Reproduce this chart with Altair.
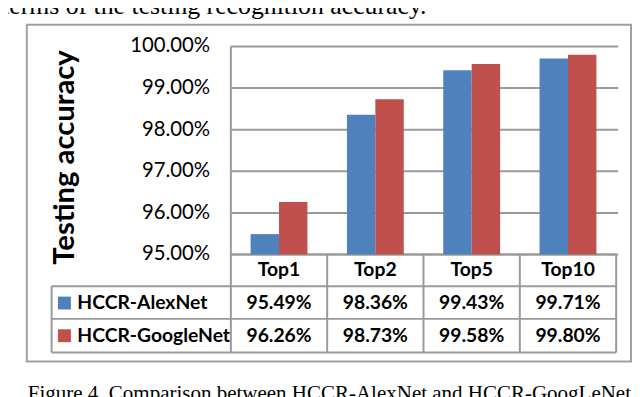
import altair as alt
import pandas as pd

# ---------------- data ----------------
categories = ["Top1", "Top2", "Top5", "Top10"]
series_names = ["HCCR-AlexNet", "HCCR-GoogleNet"]
alexnet = [95.49, 98.36, 99.43, 99.71]
googlenet = [96.26, 98.73, 99.58, 99.80]
y_ticks = [95, 96, 97, 98, 99, 100]
y_title = "Testing accuracy"
top_text = "terms of the testing recognition accuracy."
caption = "Figure 4. Comparison between HCCR-AlexNet and HCCR-GoogLeNet"

# ---------------- layout / style ----------------
colors = ["#4F81BD", "#C0504D"]
W, H = 630, 389
PL, PR, PT, PB = 225, 614, 37, 247       # plot area in chart px
TL = 44                                  # table left edge
ROW_LINES = [279, 312, 346]              # table horizontal lines
GRID = "#9a9a9a"
FONT = "Lato"

bar_df = pd.DataFrame({
    "category": categories * 2,
    "series": [s for s in series_names for _ in categories],
    "value": alexnet + googlenet,
})
tick_df = pd.DataFrame({"tick": y_ticks,
                        "label": [f"{t:.2f}%" for t in y_ticks]})
rows = ["header"] + series_names
table_df = pd.DataFrame({
    "category": categories * 3,
    "row": [r for r in rows for _ in categories],
    "text": categories + [f"{v:.2f}%" for v in alexnet] + [f"{v:.2f}%" for v in googlenet],
})
legend_df = pd.DataFrame({"row": series_names, "series": series_names})

step = (PR - PL) / len(categories)
segs = [(PL, PB, PR, PB)] + [(TL, y, PR, y) for y in ROW_LINES]
segs += [(PL, PT, PL, ROW_LINES[-1]), (TL, ROW_LINES[0], TL, ROW_LINES[-1])]
segs += [(PL + step * k, PB, PL + step * k, ROW_LINES[-1]) for k in range(1, len(categories) + 1)]
seg_df = pd.DataFrame(segs, columns=["x1", "y1", "x2", "y2"])

xscale = alt.Scale(domain=categories, range=[PL, PR], paddingInner=0.41, paddingOuter=0.205)
yscale = alt.Scale(domain=[95, 100], range=[PB, PT], zero=False, nice=False)
rowscale = alt.Scale(type="point", domain=rows, range=[263, 329], padding=0)

border = alt.Chart(pd.DataFrame({"a": [0]})).mark_rect(
    fill="white", stroke="#a0a0a0", strokeWidth=2
).encode(x=alt.value(19), x2=alt.value(629), y=alt.value(15), y2=alt.value(355))

grid = alt.Chart(tick_df).mark_rule(color=GRID, strokeWidth=2).encode(
    y=alt.Y("tick:Q", scale=yscale, axis=None),
    x=alt.value(PL), x2=alt.value(PR + 2),
)

lines = alt.Chart(seg_df).mark_rule(color=GRID, strokeWidth=2).encode(
    x=alt.X("x1:Q", scale=None), x2="x2:Q",
    y=alt.Y("y1:Q", scale=None), y2="y2:Q",
)

bars = alt.Chart(bar_df).mark_bar().encode(
    x=alt.X("category:N", scale=xscale, axis=None),
    xOffset=alt.XOffset("series:N", scale=alt.Scale(domain=series_names, paddingInner=0, paddingOuter=0)),
    y=alt.Y("value:Q", scale=yscale, axis=None),
    y2=alt.datum(95),
    color=alt.Color("series:N", scale=alt.Scale(domain=series_names, range=colors), legend=None),
)

tick_labels = alt.Chart(tick_df).mark_text(
    align="right", baseline="middle", font=FONT, fontSize=20.5, color="black"
).encode(
    y=alt.Y("tick:Q", scale=yscale, axis=None), x=alt.value(204), text="label:N",
)

title = alt.Chart(pd.DataFrame({"t": [y_title]})).mark_text(
    angle=270, align="center", baseline="alphabetic", font=FONT, fontSize=29.5,
    fontWeight="bold", color="black"
).encode(x=alt.value(67), y=alt.value(149), text="t:N")

table_text = alt.Chart(table_df).mark_text(
    align="center", baseline="middle", font=FONT, fontSize=19.5, fontWeight="bold", color="black"
).encode(
    x=alt.X("category:N", scale=xscale, axis=None),
    y=alt.Y("row:N", scale=rowscale, axis=None),
    text="text:N",
)

legend_sq = alt.Chart(legend_df).mark_square(size=169, opacity=1).encode(
    x=alt.value(57),
    y=alt.Y("row:N", scale=rowscale, axis=None),
    color=alt.Color("series:N", scale=alt.Scale(domain=series_names, range=colors), legend=None),
)
legend_lbl = alt.Chart(legend_df).mark_text(
    align="left", baseline="middle", font=FONT, fontSize=19.5, fontWeight="bold", color="black"
).encode(
    x=alt.value(70),
    y=alt.Y("row:N", scale=rowscale, axis=None),
    text="series:N",
)

top = alt.Chart(pd.DataFrame({"t": [top_text]})).mark_text(
    align="left", baseline="alphabetic", font="Liberation Serif", fontSize=26, color="black"
).encode(x=alt.value(-6), y=alt.value(4), text="t:N")

cap = alt.Chart(pd.DataFrame({"t": [caption]})).mark_text(
    align="left", baseline="alphabetic", font="Liberation Serif", fontSize=21.2, color="black"
).encode(x=alt.value(20), y=alt.value(394), text="t:N")

chart = alt.layer(
    border, grid, lines, bars, tick_labels, title, table_text, legend_sq, legend_lbl, top, cap
).resolve_scale(
    x="independent", y="independent", color="independent"
).properties(
    width=W, height=H, padding=0, autosize=alt.AutoSizeParams(type="none"),
    background="white",
).configure_view(stroke=None)

chart.save("out.html", embed_options={"renderer": "svg", "actions": False})
